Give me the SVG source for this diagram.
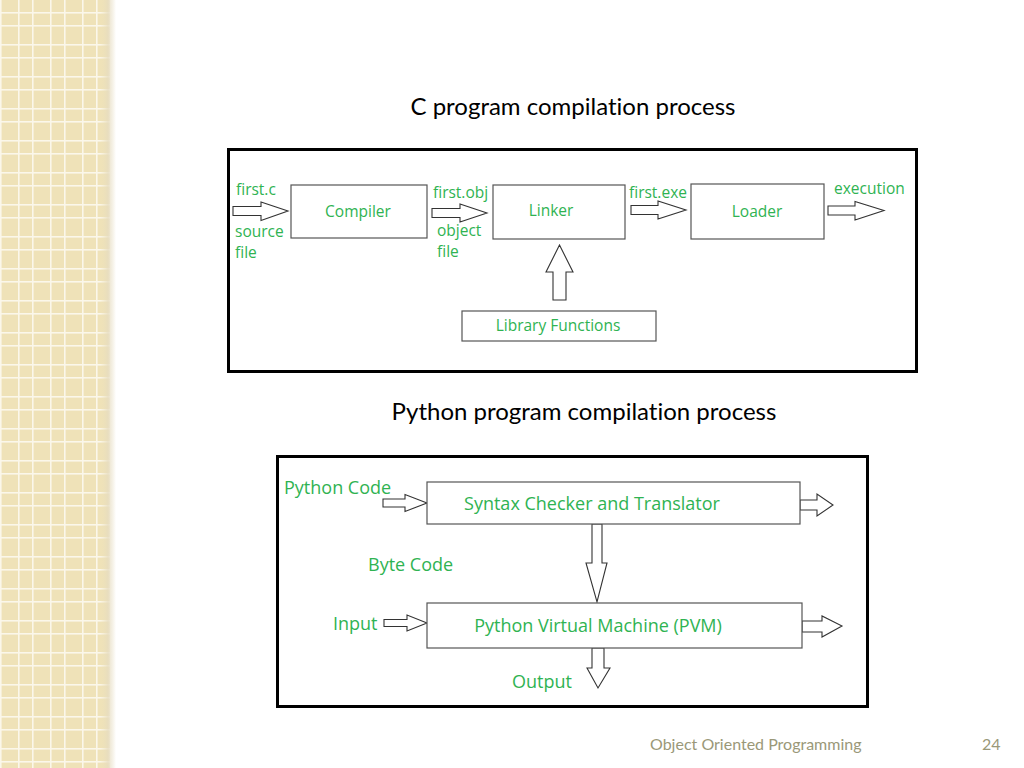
<svg xmlns="http://www.w3.org/2000/svg" width="1024" height="768" viewBox="0 0 1024 768">
<defs>
<pattern id="tiles" x="0" y="0" width="32" height="32" patternUnits="userSpaceOnUse">
<rect width="32" height="32" fill="#efe2b8"/>
<rect x="0" y="0" width="1.6" height="32" fill="#fbf7ea"/>
<rect x="18" y="0" width="1.6" height="32" fill="#fbf7ea"/>
<rect x="0" y="12" width="32" height="1.6" fill="#fbf7ea"/>
<rect x="0" y="25" width="32" height="1.6" fill="#fbf7ea"/>
</pattern>
<linearGradient id="shade" x1="0" y1="0" x2="1" y2="0">
<stop offset="0" stop-color="#efe2b8" stop-opacity="0"/>
<stop offset="0.5" stop-color="#e6dcc0" stop-opacity="0.8"/>
<stop offset="1" stop-color="#ffffff" stop-opacity="1"/>
</linearGradient>
<style>
text{font-variant-ligatures:none}
.g{fill:#2fb352;font-family:"Open Sans","Liberation Sans",sans-serif}
.c{font-size:15.5px}
.p{font-size:18px}
.box{fill:#fff;stroke:#555;stroke-width:1.2}
.frame{fill:none;stroke:#000;stroke-width:3}
.arr{fill:#fff;stroke:#333;stroke-width:1.1;stroke-linejoin:miter}
.title{fill:#000;font-family:"Lato","Liberation Sans",sans-serif;font-size:24px}
.foot{fill:#9a9878;font-family:"Lato","Liberation Sans",sans-serif;font-size:16px}
</style>
</defs>
<rect width="1024" height="768" fill="#fff"/>
<rect x="0" y="0" width="110" height="768" fill="url(#tiles)"/>
<rect x="100" y="0" width="16" height="768" fill="url(#shade)"/>

<text class="title" x="573" y="115" text-anchor="middle">C program compilation process</text>
<text class="title" x="584" y="420" text-anchor="middle">Python program compilation process</text>

<rect class="frame" x="228.5" y="149.5" width="688" height="222"/>
<rect class="frame" x="277.5" y="456.5" width="590" height="250"/>

<g id="connectors">
<path class="arr" d="M233,206.5 H261 V202 L288,211 L261,220.5 V215.5 H233 Z"/>
<path class="arr" d="M432,208.5 H460 V204 L487,213 L460,222 V217.5 H432 Z"/>
<path class="arr" d="M631,205.5 H658 V201 L686,210 L658,219 V214.5 H631 Z"/>
<path class="arr" d="M828,206 H855 V201.5 L884,210.5 L855,220 V215 H828 Z"/>
<path class="arr" d="M553,300 V272 H546 L559.5,245 L573,272 H566 V300 Z"/>
<path class="arr" d="M383,499 H405 V494.5 L427,503 L405,511.5 V507 H383 Z"/>
<path class="arr" d="M384,619.5 H407 V615 L427,623 L407,631 V626.5 H384 Z"/>
<path class="arr" d="M800,500 H817 V494 L833,505 L817,516 V510 H800 Z"/>
<path class="arr" d="M802,621 H822 V616 L842,626 L822,637 V632 H802 Z"/>
<path class="arr" d="M592,524 V563 H586 L597,602 L607,563 H602 V524 Z"/>
<path class="arr" d="M592,648 V668 H587 L598,688 L610,668 H604 V648 Z"/>
</g>

<g id="compiler"><rect class="box" x="291" y="185" width="136" height="53"/><text class="g c" x="358" y="217" text-anchor="middle">Compiler</text></g>
<g id="linker"><rect class="box" x="493" y="185" width="132" height="54"/><text class="g c" x="551" y="216" text-anchor="middle">Linker</text></g>
<g id="loader"><rect class="box" x="691" y="184" width="133" height="55"/><text class="g c" x="757" y="217" text-anchor="middle">Loader</text></g>
<g id="library"><rect class="box" x="462" y="311" width="194" height="30"/><text class="g c" x="558" y="331" text-anchor="middle">Library Functions</text></g>

<g id="c-labels">
<text class="g c" x="236" y="195">first.c</text>
<text class="g c" x="235" y="237">source</text>
<text class="g c" x="235" y="258">file</text>
<text class="g c" x="433" y="198">first.obj</text>
<text class="g c" x="437" y="236">object</text>
<text class="g c" x="437" y="257">file</text>
<text class="g c" x="629" y="198">first.exe</text>
<text class="g c" x="834" y="194">execution</text>
</g>

<g id="syntax"><rect class="box" x="427" y="482" width="373" height="42"/><text class="g p" x="592" y="510" text-anchor="middle">Syntax Checker and Translator</text></g>
<g id="pvm"><rect class="box" x="427" y="603" width="375" height="45"/><text class="g p" x="598" y="632" text-anchor="middle">Python Virtual Machine (PVM)</text></g>

<g id="py-labels">
<text class="g p" x="284" y="494">Python Code</text>
<text class="g p" x="368" y="571">Byte Code</text>
<text class="g p" x="333" y="630">Input</text>
<text class="g p" x="512" y="688">Output</text>
</g>

<text class="foot" x="650" y="750">Object Oriented Programming</text>
<text class="foot" x="982" y="750">24</text>
</svg>
